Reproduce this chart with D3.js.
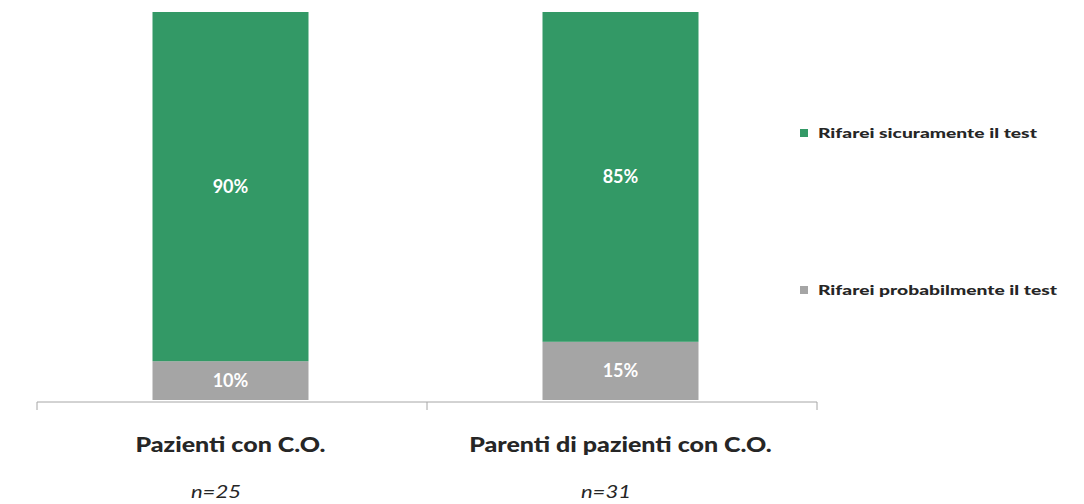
<!DOCTYPE html>
<html>
<head>
<meta charset="utf-8">
<script src="https://cdn.jsdelivr.net/npm/d3@7"></script>
<style>
  body { margin: 0; background: #fff; }
  svg text { font-family: Lato, "Open Sans", sans-serif; }
</style>
</head>
<body>
<div id="chart"></div>
<script>
// Chart data
const categories = ['Pazienti con C.O.', 'Parenti di pazienti con C.O.'];
const sampleSizes = ['n=25', 'n=31'];
const seriesNames = ['Rifarei probabilmente il test', 'Rifarei sicuramente il test'];
const probabilmente = [10, 15];
const sicuramente = [90, 85];

const colours = { 'Rifarei sicuramente il test': '#339966', 'Rifarei probabilmente il test': '#a5a5a5' };

const width = 1084, height = 504;
const plot = { left: 37, right: 817, top: 12, bottom: 400 };

const svg = d3.select('#chart').append('svg')
  .attr('width', width)
  .attr('height', height);

// widen text horizontally, the source font is a wide-looking scan
function stretch(sel, factor) {
  sel.each(function () {
    const len = this.getComputedTextLength();
    d3.select(this)
      .attr('textLength', len * factor)
      .attr('lengthAdjust', 'spacingAndGlyphs');
  });
}

const rows = categories.map((c, i) => ({
  category: c,
  'Rifarei probabilmente il test': probabilmente[i],
  'Rifarei sicuramente il test': sicuramente[i]
}));

const series = d3.stack().keys(seriesNames)(rows);

const x = d3.scaleBand()
  .domain(categories)
  .range([plot.left, plot.right]);

const barWidth = 156;
const barShift = -1.5;

const y = d3.scaleLinear()
  .domain([0, 100])
  .range([plot.bottom, plot.top]);

// Bars
const layers = svg.append('g').selectAll('g')
  .data(series)
  .join('g')
  .attr('fill', d => colours[d.key]);

layers.selectAll('rect')
  .data(d => d)
  .join('rect')
  .attr('x', d => x(d.data.category) + x.bandwidth() / 2 - barWidth / 2 + barShift)
  .attr('y', d => y(d[1]))
  .attr('width', barWidth)
  .attr('height', d => y(d[0]) - y(d[1]));

// Value labels
layers.selectAll('text')
  .data(d => d)
  .join('text')
  .attr('x', d => x(d.data.category) + x.bandwidth() / 2 + barShift)
  .attr('y', d => (y(d[0]) + y(d[1])) / 2)
  .attr('dy', '0.35em')
  .attr('text-anchor', 'middle')
  .attr('fill', '#fff')
  .attr('font-weight', 'bold')
  .attr('font-size', 18)
  .text(d => `${d[1] - d[0]}%`);

// Axis
const axis = svg.append('g')
  .attr('transform', `translate(0, ${plot.bottom + 2})`);

axis.append('line')
  .attr('x1', plot.left).attr('x2', plot.right)
  .attr('stroke', '#a6a6a6').attr('stroke-width', 1);

const tickPositions = [plot.left, ...categories.map(c => x(c) + x.bandwidth())];
axis.selectAll('.tick')
  .data(tickPositions)
  .join('line')
  .attr('class', 'tick')
  .attr('x1', d => d).attr('x2', d => d)
  .attr('y1', 0).attr('y2', 8)
  .attr('stroke', '#a6a6a6');

// Category labels
svg.append('g').selectAll('text')
  .data(categories)
  .join('text')
  .attr('x', d => x(d) + x.bandwidth() / 2 + barShift)
  .attr('y', 452)
  .attr('text-anchor', 'middle')
  .attr('font-weight', 900)
  .attr('font-size', 20)
  .attr('fill', '#262626')
  .text(d => d)
  .call(stretch, 1.25);

svg.append('g').selectAll('text')
  .data(sampleSizes)
  .join('text')
  .attr('x', (d, i) => x(categories[i]) + x.bandwidth() / 2 - 16)
  .attr('y', 498)
  .attr('text-anchor', 'middle')
  .attr('font-style', 'italic')
  .attr('font-size', 17)
  .attr('fill', '#262626')
  .text(d => d)
  .call(stretch, 1.3);

// Legend
const legendItems = [
  { key: 'Rifarei sicuramente il test', y: 133 },
  { key: 'Rifarei probabilmente il test', y: 290 }
];

const item = svg.append('g').attr('class', 'legend')
  .selectAll('g')
  .data(legendItems)
  .join('g')
  .attr('transform', d => `translate(800, ${d.y})`);

item.append('rect')
  .attr('x', 0).attr('y', -4)
  .attr('width', 8).attr('height', 8)
  .attr('fill', d => colours[d.key]);

item.append('text')
  .attr('x', 18)
  .attr('dy', '0.35em')
  .attr('font-size', 13)
  .attr('font-weight', 900)
  .attr('fill', '#262626')
  .text(d => d.key)
  .call(stretch, 1.48);
</script>
</body>
</html>
